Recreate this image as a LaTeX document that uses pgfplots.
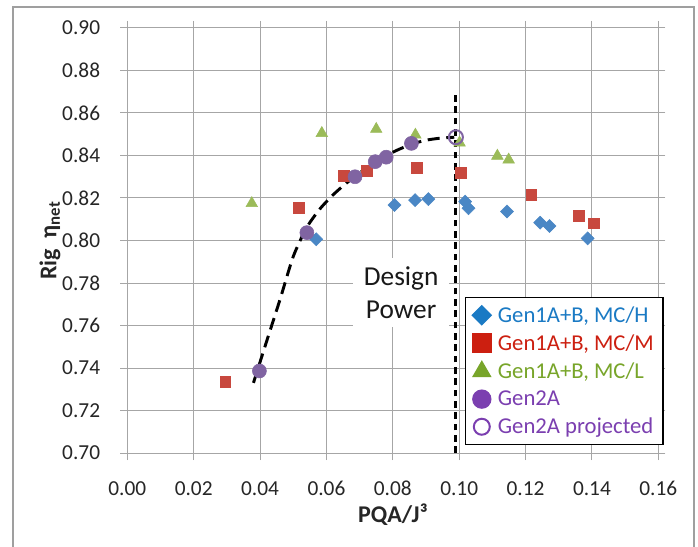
\documentclass[border=0pt]{standalone}
\usepackage{fontspec}
\setmainfont{Carlito}
\usepackage{pgfplots}
\pgfplotsset{compat=1.18}

% plot marker colours
\definecolor{cBlue}{HTML}{4A87C5}
\definecolor{cRed}{HTML}{C8483E}
\definecolor{cGreen}{HTML}{9BBB59}
\definecolor{cPurple}{HTML}{8064A2}
% legend colours (a bit stronger)
\definecolor{lBlue}{HTML}{1A7AC4}
\definecolor{lRed}{HTML}{CC1F10}
\definecolor{lGreen}{HTML}{78A52A}
\definecolor{lPurple}{HTML}{7B3FB0}
\definecolor{gridgray}{HTML}{A6A6A6}

\begin{document}
\begin{tikzpicture}[x=1pt,y=1pt]
\useasboundingbox (0,0) rectangle (523.5,409.5);
\fill[white] (0,0) rectangle (523.5,409.5);
\draw[gray!75, line width=0.8pt] (9.75,-5) -- (9.75,404.25) -- (520.5,404.25) -- (520.5,-5);
\begin{axis}[
    at={(95.5pt,69.75pt)}, anchor=south west,
    scale only axis, width=398.25pt, height=318.75pt,
    xmin=0, xmax=0.16, ymin=0.70, ymax=0.90,
    xtick={0,0.02,0.04,0.06,0.08,0.10,0.12,0.14,0.16},
    ytick={0.70,0.72,0.74,0.76,0.78,0.80,0.82,0.84,0.86,0.88,0.90},
    /pgf/number format/.cd, fixed, fixed zerofill, precision=2, assume math mode=true,
    /pgfplots/.cd,
    scaled ticks=false,
    grid=major, grid style={gridgray, line width=0.75pt},
    axis line style={gridgray, line width=0.75pt},
    tick style={gridgray, line width=0.75pt},
    tick align=outside, major tick length=5.25pt,
    ticklabel style={font=\fontsize{16}{19}\selectfont, text=black!85, inner sep=0pt},
    xticklabel style={anchor=center, yshift=-21.5pt},
    yticklabel style={anchor=east, xshift=-15pt},
    xlabel={PQA/J³},
    xlabel style={font=\bfseries\fontsize{18}{21}\selectfont, text=black!85,
        at={(axis description cs:0.5,-0.146)}, anchor=center},
    ylabel={Rig\ \ η\textsubscript{net}},
    ylabel style={font=\bfseries\fontsize{18}{21}\selectfont, text=black!85,
        at={(axis description cs:-0.1456,0.5)}, anchor=center},
    legend style={at={(0.636,0.367)}, anchor=north west, draw=black, line width=1pt,
        fill=white, inner xsep=5pt, inner ysep=4.5pt,
        font=\fontsize{17}{20}\selectfont, row sep=3.8pt},
    legend cell align=left,
    legend image code/.code={%
        \draw[mark repeat=2, mark phase=2, #1]
            plot coordinates {(0pt,0pt) (7pt,0pt) (14pt,0pt)};},
]
% Gen1A+B, MC/H
\addplot[only marks, forget plot, mark=square*, mark size=3.45pt,
    mark options={rotate=45, draw=cBlue, fill=cBlue}] coordinates {
    (0.0569,0.8006) (0.0805,0.8167) (0.0867,0.8190) (0.0907,0.8195)
    (0.1018,0.8183) (0.1028,0.8152) (0.1144,0.8136) (0.1244,0.8084)
    (0.1272,0.8068) (0.1387,0.8010)
};
% Gen1A+B, MC/M
\addplot[only marks, forget plot, mark=square*, mark size=4.1pt,
    mark options={draw=cRed, fill=cRed}] coordinates {
    (0.0295,0.7335) (0.0516,0.8152) (0.0653,0.8304) (0.0722,0.8329)
    (0.0872,0.8342) (0.1006,0.8317) (0.1217,0.8214) (0.1360,0.8115)
    (0.1405,0.8081)
};
% Gen1A+B, MC/L
\addplot[only marks, forget plot, mark=triangle*, mark size=5pt,
    mark options={draw=cGreen, fill=cGreen}] coordinates {
    (0.0375,0.8175) (0.0586,0.8505) (0.0750,0.8524) (0.0868,0.8497)
    (0.1001,0.8460) (0.1115,0.8398) (0.1149,0.8380)
};
% Gen2A
\addplot[only marks, forget plot, mark=*, mark size=5.25pt,
    mark options={draw=cPurple, fill=cPurple}] coordinates {
    (0.0398,0.7386) (0.0541,0.8037) (0.0686,0.8300) (0.0747,0.8371)
    (0.0780,0.8392) (0.0856,0.8457)
};
% Gen2A projected
\addplot[only marks, forget plot, mark=o, mark size=5.25pt,
    mark options={draw=cPurple, line width=1.5pt}] coordinates {
    (0.0990,0.8486)
};
% trend line
\addplot[forget plot, black, line width=2.2pt, dash pattern=on 9pt off 5pt,
    smooth, tension=0.4] coordinates {
    (0.0380,0.7330) (0.0420,0.7527) (0.0460,0.7722) (0.0500,0.7925)
    (0.0540,0.8060) (0.0580,0.8148) (0.0620,0.8215) (0.0660,0.8270)
    (0.0700,0.8318) (0.0740,0.8360) (0.0780,0.8400) (0.0820,0.8430)
    (0.0860,0.8455) (0.0900,0.8472) (0.0940,0.8481) (0.0985,0.8486)
};
% design power line
\addplot[forget plot, black, line width=2.2pt, dash pattern=on 5pt off 3.5pt] coordinates {
    (0.099,0.700) (0.099,0.870)
};
\node[fill=white, align=center, inner xsep=8pt, inner ysep=6pt,
    font=\fontsize{20.5}{25}\selectfont, text=black!90]
    at (axis cs:0.0825,0.7755) {Design\\Power};
% legend
\addlegendimage{only marks, mark=square*, mark size=5pt, mark options={rotate=45, draw=lBlue, fill=lBlue}}
\addlegendentry[text=lBlue]{\hspace{3pt}Gen1A+B, MC/H}
\addlegendimage{only marks, mark=square*, mark size=7pt, mark options={draw=lRed, fill=lRed}}
\addlegendentry[text=lRed]{\hspace{3pt}Gen1A+B, MC/M}
\addlegendimage{only marks, mark=triangle*, mark size=7.5pt, mark options={draw=lGreen, fill=lGreen}}
\addlegendentry[text=lGreen]{\hspace{3pt}Gen1A+B, MC/L}
\addlegendimage{only marks, mark=*, mark size=6.75pt, mark options={draw=lPurple, fill=lPurple}}
\addlegendentry[text=lPurple]{\hspace{3pt}Gen2A}
\addlegendimage{only marks, mark=o, mark size=6pt, mark options={draw=lPurple, line width=1.5pt}}
\addlegendentry[text=lPurple]{\hspace{3pt}Gen2A projected}
\end{axis}
\end{tikzpicture}
\end{document}
